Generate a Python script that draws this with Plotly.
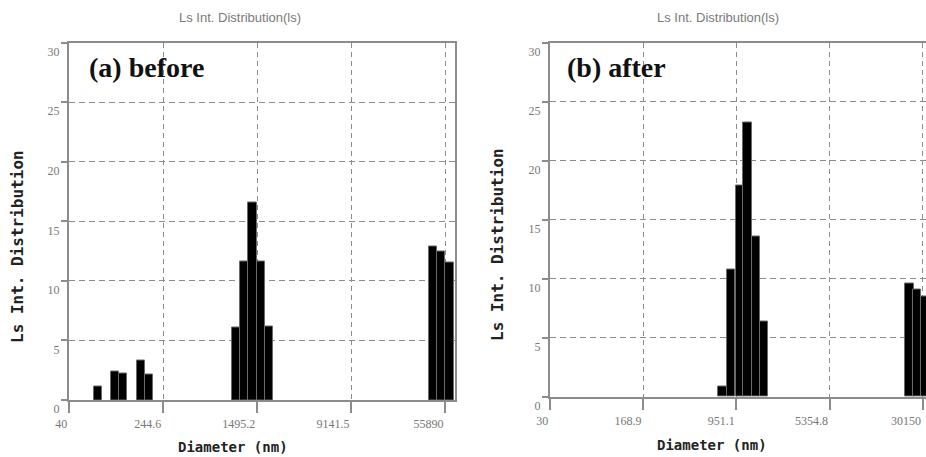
import numpy as np
import plotly.graph_objects as go

# ---------------- data ----------------
before_diameter = [69.5, 97.5, 113.0, 160.6, 187.3, 992, 1166, 1369, 1606, 1888, 44040, 51760, 60730]
before_value = [1.1, 2.4, 2.2, 3.3, 2.15, 6.1, 11.6, 16.6, 11.6, 6.2, 12.9, 12.5, 11.5]

after_diameter = [734.5, 856.6, 1010, 1168, 1362, 1591, 23530, 27040, 31240]
after_value = [0.85, 10.8, 17.9, 23.25, 13.55, 6.4, 9.55, 9.05, 8.5]

before_ticks = ["40", "244.6", "1495.2", "9141.5", "55890"]
after_ticks = ["30", "168.9", "951.1", "5354.8", "30150"]
y_ticks = [0, 5, 10, 15, 20, 25, 30]

panel_title = "Ls Int. Distribution(ls)"
y_title = "Ls Int. Distribution"
x_title = "Diameter (nm)"
panel_labels = ["(a) before", "(b) after"]

# ---------------- figure ----------------
W, H = 926, 457
AX = "#8c8c8c"
GRID = "#8c8c8c"

fig = go.Figure()
fig.add_trace(go.Bar(
    x=np.log10(before_diameter), y=before_value, width=0.069,
    marker=dict(color="black", line=dict(color="#6a6a6a", width=1)),
    xaxis="x", yaxis="y", showlegend=False, cliponaxis=True))
fig.add_trace(go.Bar(
    x=np.log10(after_diameter), y=after_value, width=0.067,
    marker=dict(color="black", line=dict(color="#6a6a6a", width=1)),
    xaxis="x2", yaxis="y2", showlegend=False, cliponaxis=True))

tickfont = dict(family="Liberation Serif", size=12, color="#777")

def xax(domain, rng, labels):
    return dict(domain=domain, range=rng, type="linear",
                tickvals=list(np.log10([float(t) for t in labels])), ticktext=labels,
                ticks="outside", ticklen=11, tickwidth=1.5, tickcolor=AX,
                showline=True, linecolor=AX, linewidth=2, mirror=True,
                showgrid=True, gridcolor=GRID, gridwidth=1.3, griddash="5px,4px",
                zeroline=False, tickfont=tickfont, ticklabelposition="outside left",
                ticklabelstandoff=12, automargin=False, fixedrange=True)

def yax(domain, anchor, mirror):
    return dict(domain=domain, range=[0, 30], anchor=anchor,
                tickvals=y_ticks, ticks="outside", ticklen=6, tickwidth=1.5, tickcolor=AX,
                showline=True, linecolor=AX, linewidth=2, mirror=mirror,
                showgrid=True, gridcolor=GRID, gridwidth=1.3, griddash="6px,4px",
                zeroline=False, tickfont=tickfont, ticklabelposition="outside bottom",
                ticklabelstandoff=5, automargin=False, fixedrange=True)

x1 = xax([69 / W, 455 / W], [np.log10(40), np.log10(40) + 386 / 119.6], before_ticks)
x1["anchor"] = "y"
x2 = xax([550 / W, 1.0], [np.log10(30), np.log10(30) + 376 / 124.2], after_ticks)
x2["anchor"] = "y2"

fig.update_layout(
    width=W, height=H,
    margin=dict(l=0, r=0, t=0, b=0),
    paper_bgcolor="white", plot_bgcolor="white",
    bargap=0,
    xaxis=x1,
    yaxis=yax([(H - 400) / H, (H - 42.5) / H], "x", True),
    xaxis2=x2,
    yaxis2=yax([(H - 396.7) / H, (H - 42.5) / H], "x2", False),
)

ann = []
for cx, cy_x, lx, yt_x, yt_y, xt_x, xt_y, lab in [
    (239.5, 18, 86.7, 17, 247, 232.5, 447, panel_labels[0]),
    (718, 18, 565, 497, 245, 711.5, 444.5, panel_labels[1]),
]:
    ann.append(dict(x=cx / W, y=1 - cy_x / H, xref="paper", yref="paper", text=panel_title,
                    showarrow=False, xanchor="center", yanchor="middle",
                    font=dict(family="Liberation Sans", size=13, color="#7a7a7a")))
    ann.append(dict(x=lx / W, y=1 - 67.5 / H, xref="paper", yref="paper", text="<b>" + lab + "</b>",
                    showarrow=False, xanchor="left", yanchor="middle",
                    font=dict(family="Liberation Serif", size=28, color="#111")))
    ann.append(dict(x=yt_x / W, y=1 - yt_y / H, xref="paper", yref="paper", text="<b>" + y_title + "</b>",
                    showarrow=False, xanchor="center", yanchor="middle", textangle=-90,
                    font=dict(family="DejaVu Sans Mono", size=16, color="#222")))
    ann.append(dict(x=xt_x / W, y=1 - xt_y / H, xref="paper", yref="paper", text="<b>" + x_title + "</b>",
                    showarrow=False, xanchor="center", yanchor="middle",
                    font=dict(family="DejaVu Sans Mono", size=14, color="#222")))
fig.update_layout(annotations=ann)

fig.write_html("out.html", config={"displayModeBar": False},
               post_script="document.body.style.margin='0';document.body.style.overflow='hidden';")
